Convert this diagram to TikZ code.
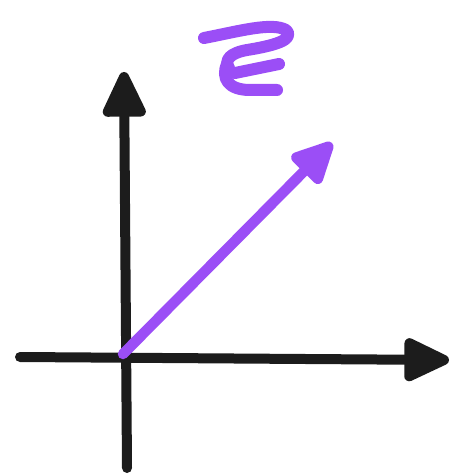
\documentclass[tikz,border=0pt]{standalone}
\usetikzlibrary{arrows.meta}
\definecolor{vecpurple}{RGB}{155,78,246}
\definecolor{axisblack}{RGB}{28,28,28}
\tikzset{
  axisline/.style={draw=axisblack,line width=10pt,line cap=round,
    -{Triangle[length=52pt,width=46pt,round]}},
  vecline/.style={draw=vecpurple,line width=10.5pt,line cap=round,
    -{Triangle[length=48pt,width=44pt,round]}},
  epsstroke/.style={draw=vecpurple,line width=12pt,line cap=round,line join=round},
}
\begin{document}
\begin{tikzpicture}[x=1pt,y=-1pt]
\useasboundingbox (0,0) rectangle (453,476);
\coordinate (ybot) at (127,468);
\coordinate (ytop) at (124,72);
\coordinate (xleft) at (20,357);
\coordinate (xright) at (449,360);
\coordinate (origin) at (123,354);
\coordinate (vtip) at (332,143);
\draw[axisline] (ybot) -- (ytop);
\draw[axisline] (xleft) -- (xright);
\draw[vecline] (origin) -- (vtip);
% hand-drawn label
\draw[epsstroke] (204,38) .. controls (240,31) and (272,22) .. (286,30)
  .. controls (296,40) and (272,46) .. (247,50)
  .. controls (230,53) and (224,60) .. (229,68);
\draw[epsstroke] (235,73) -- (279,64);
\draw[epsstroke] (227,64) .. controls (221,78) and (228,90) .. (250,90) -- (277,90);
\end{tikzpicture}
\end{document}
